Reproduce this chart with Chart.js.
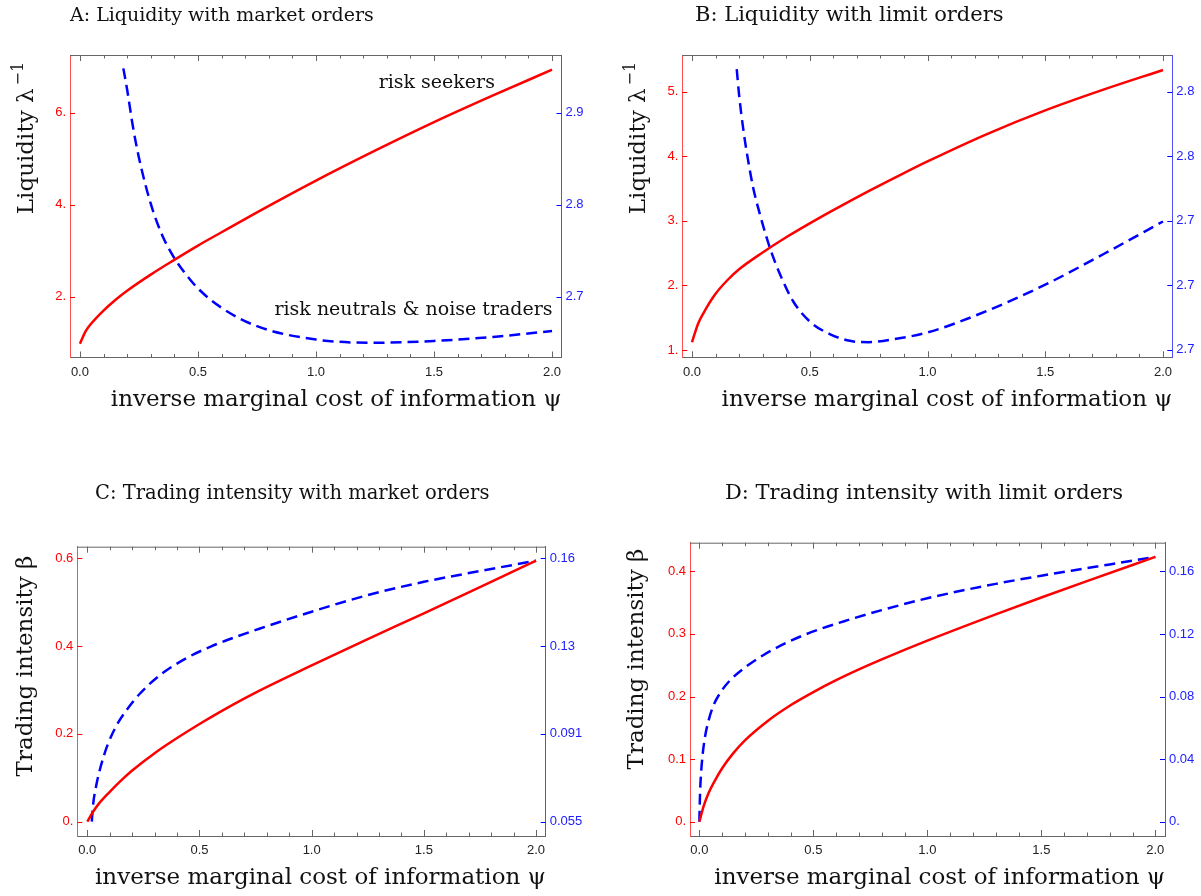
<!DOCTYPE html>
<html>
<head>
<meta charset="utf-8">
<script src="https://cdn.jsdelivr.net/npm/chart.js@4.4.1/dist/chart.umd.min.js"></script>
<style>
body { margin: 0; background: #fff; }
#wrap { position: relative; width: 1201px; height: 896px; overflow: hidden; background: #fff; }
#wrap canvas { position: absolute; }
</style>
</head>
<body>
<div id="wrap">
  <canvas id="chartA" width="600" height="430" style="left:0px;top:0px"></canvas>
  <canvas id="chartB" width="601" height="430" style="left:600px;top:0px"></canvas>
  <canvas id="chartC" width="600" height="426" style="left:0px;top:470px"></canvas>
  <canvas id="chartD" width="601" height="426" style="left:600px;top:470px"></canvas>
</div>
<script>
// ---- data ----
var xTicks = [0, 0.5, 1, 1.5, 2];
var xTickLabels = ['0.0', '0.5', '1.0', '1.5', '2.0'];
var xMinorTicks = [0.1, 0.2, 0.3, 0.4, 0.6, 0.7, 0.8, 0.9, 1.1, 1.2, 1.3, 1.4, 1.6, 1.7, 1.8, 1.9];

// A: liquidity, market orders
var psiA_red = [0, 0.025, 0.05, 0.1, 0.15, 0.2, 0.3, 0.4, 0.5, 0.6, 0.75, 1.0, 1.25, 1.5, 1.75, 2.0];
var seekersA = [0.98, 1.26, 1.43, 1.70, 1.93, 2.13, 2.48, 2.80, 3.11, 3.40, 3.83, 4.52, 5.17, 5.79, 6.37, 6.93];
var psiA_blue = [0.184, 0.2, 0.225, 0.25, 0.3, 0.35, 0.4, 0.45, 0.5, 0.6, 0.75, 1.0, 1.25, 1.5, 1.75, 2.0];
var neutralsA = [2.948, 2.925, 2.884, 2.851, 2.801, 2.766, 2.742, 2.724, 2.709, 2.688, 2.668, 2.6535, 2.650, 2.652, 2.6563, 2.6628];
var leftTicksA = [2, 4, 6];
var leftLabelsA = ['2.', '4.', '6.'];
var rightTicksA = [2.7, 2.8, 2.9];
var rightLabelsA = ['2.7', '2.8', '2.9'];
var notesA = ['risk seekers', 'risk neutrals & noise traders'];
var notesAx = [1.758, 2.002];
var notesAy = [6.634, 1.711];

// B: liquidity, limit orders
var psiB_red = [0, 0.025, 0.05, 0.1, 0.15, 0.2, 0.3, 0.4, 0.5, 0.6, 0.75, 0.9, 1.0, 1.25, 1.5, 1.75, 2.0];
var seekersB = [1.12, 1.40, 1.58, 1.87, 2.08, 2.25, 2.51, 2.745, 2.96, 3.165, 3.46, 3.74, 3.92, 4.34, 4.71, 5.035, 5.336];
var psiB_blue = [0.19, 0.2, 0.22, 0.24, 0.26, 0.29, 0.33, 0.375, 0.43, 0.5, 0.585, 0.67, 0.75, 0.88, 1.0, 1.25, 1.5, 1.75, 2.0];
var neutralsB = [2.827, 2.819, 2.8072, 2.798, 2.7902, 2.7816, 2.7718, 2.7632, 2.755, 2.7488, 2.7449, 2.7428, 2.7424, 2.7436, 2.7454, 2.752, 2.7602, 2.7698, 2.7798];
var leftTicksB = [1, 2, 3, 4, 5];
var leftLabelsB = ['1.', '2.', '3.', '4.', '5.'];
var rightTicksB = [2.74, 2.76, 2.78, 2.80, 2.82];
var rightLabelsB = ['2.7', '2.7', '2.7', '2.8', '2.8'];

// C: trading intensity, market orders
var psiC_red = [0, 0.025, 0.05, 0.1, 0.15, 0.2, 0.3, 0.4, 0.5, 0.6, 0.75, 1.0, 1.25, 1.5, 1.75, 2.0];
var seekersC = [0, 0.022, 0.040, 0.068, 0.0935, 0.1165, 0.156, 0.1905, 0.2225, 0.2525, 0.294, 0.356, 0.416, 0.4745, 0.5345, 0.5945];
var psiC_blue = [0.02, 0.025, 0.04, 0.06, 0.09, 0.13, 0.175, 0.235, 0.325, 0.44, 0.55, 0.67, 0.77, 1.0, 1.25, 1.5, 1.75, 2.0];
var neutralsC = [0.055, 0.0611, 0.0695, 0.0771, 0.0855, 0.0933, 0.0995, 0.1061, 0.1135, 0.1201, 0.1248, 0.1289, 0.132, 0.1387, 0.1453, 0.1506, 0.1549, 0.159];
var leftTicksC = [0, 0.2, 0.4, 0.6];
var leftLabelsC = ['0.', '0.2', '0.4', '0.6'];
var rightTicksC = [0.055, 0.09, 0.125, 0.16];
var rightLabelsC = ['0.055', '0.091', '0.13', '0.16'];

// D: trading intensity, limit orders
var psiD_red = [0, 0.02, 0.04, 0.07, 0.1, 0.15, 0.2, 0.3, 0.4, 0.5, 0.6, 0.7, 0.8, 1.0, 1.3, 1.5, 1.7, 2.0];
var seekersD = [0, 0.026, 0.0455, 0.067, 0.0855, 0.110, 0.130, 0.161, 0.186, 0.207, 0.226, 0.2432, 0.2592, 0.2892, 0.3312, 0.3582, 0.3844, 0.423];
var psiD_blue = [0, 0.003, 0.0075, 0.015, 0.025, 0.04, 0.06, 0.09, 0.135, 0.21, 0.28, 0.38, 0.5, 0.65, 0.8, 1.0, 1.3, 1.5, 1.7, 2.0];
var neutralsD = [0, 0.018, 0.0308, 0.0436, 0.0544, 0.0644, 0.0736, 0.082, 0.0904, 0.0996, 0.1064, 0.1142, 0.1216, 0.1288, 0.1352, 0.1428, 0.152, 0.1572, 0.162, 0.1692];
var leftTicksD = [0, 0.1, 0.2, 0.3, 0.4];
var leftLabelsD = ['0.', '0.1', '0.2', '0.3', '0.4'];
var rightTicksD = [0, 0.04, 0.08, 0.12, 0.16];
var rightLabelsD = ['0.', '0.04', '0.08', '0.12', '0.16'];

var xLabel = 'inverse marginal cost of information \u03c8';
var serif = 'DejaVu Serif';
var sans = 'Liberation Sans';
var red = '#ff0000';
var blue = '#0000ff';

function toPoints(xs, ys) {
    return xs.map(function (x, i) { return { x: x, y: ys[i] }; });
}

// frame top line, inward tick marks, panel title, y label and notes
function framePlugin(p) {
    return {
        id: 'frame' + p.id,
        afterDraw: function (chart) {
            var ctx = chart.ctx;
            var a = chart.chartArea;
            var sx = chart.scales.x, sy = chart.scales.y, sy1 = chart.scales.y1;
            ctx.save();
            ctx.lineWidth = 1;
            ctx.strokeStyle = '#666';
            ctx.beginPath();
            ctx.moveTo(a.left, a.top + 0.5);
            ctx.lineTo(a.right, a.top + 0.5);
            var all = xTicks.concat(xMinorTicks);
            all.forEach(function (v) {
                var px = Math.round(sx.getPixelForValue(v)) + 0.5;
                var len = xTicks.indexOf(v) >= 0 ? 6 : 3.5;
                ctx.moveTo(px, a.bottom);
                ctx.lineTo(px, a.bottom - len);
                ctx.moveTo(px, a.top);
                ctx.lineTo(px, a.top + len);
            });
            ctx.stroke();
            ctx.strokeStyle = red;
            ctx.beginPath();
            p.leftTicks.forEach(function (v) {
                var py = Math.round(sy.getPixelForValue(v)) + 0.5;
                ctx.moveTo(a.left, py);
                ctx.lineTo(a.left + 5, py);
            });
            ctx.stroke();
            ctx.strokeStyle = blue;
            ctx.beginPath();
            p.rightTicks.forEach(function (v) {
                var py = Math.round(sy1.getPixelForValue(v)) + 0.5;
                ctx.moveTo(a.right, py);
                ctx.lineTo(a.right - 5, py);
            });
            ctx.stroke();

            // panel title
            ctx.fillStyle = '#111';
            ctx.textBaseline = 'alphabetic';
            ctx.textAlign = 'left';
            ctx.font = p.titleSize + 'px "' + serif + '"';
            ctx.fillText(p.title, p.titleX, p.titleY);

            // rotated y label with optional superscript
            ctx.save();
            ctx.translate(p.yLabelX, p.yLabelY);
            ctx.rotate(-Math.PI / 2);
            ctx.textBaseline = 'middle';
            ctx.font = '23px "' + serif + '"';
            var w = ctx.measureText(p.yLabel).width;
            var supW = 0;
            if (p.yLabelSup) {
                ctx.font = '16px "' + serif + '"';
                supW = ctx.measureText(p.yLabelSup).width + 3;
            }
            var x0 = -(w + supW) / 2;
            ctx.font = '23px "' + serif + '"';
            ctx.fillText(p.yLabel, x0, 0);
            if (p.yLabelSup) {
                ctx.font = '16px "' + serif + '"';
                ctx.fillText(p.yLabelSup, x0 + w + 3, -8);
            }
            ctx.restore();

            if (p.notes) {
                ctx.font = '19px "' + serif + '"';
                ctx.textAlign = 'right';
                ctx.textBaseline = 'middle';
                p.notes.forEach(function (t, i) {
                    ctx.fillText(t, sx.getPixelForValue(p.notesX[i]), sy.getPixelForValue(p.notesY[i]));
                });
            }
            ctx.restore();
        }
    };
}

function makePanel(p) {
    var ctx = document.getElementById(p.id).getContext('2d');
    return new Chart(ctx, {
        type: 'line',
        data: {
            datasets: [
                {
                    label: 'risk seekers',
                    data: toPoints(p.redX, p.redY),
                    yAxisID: 'y',
                    borderColor: red,
                    borderWidth: 2.5,
                    pointRadius: 0,
                    cubicInterpolationMode: 'monotone',
                    fill: false
                },
                {
                    label: 'risk neutrals & noise traders',
                    data: toPoints(p.blueX, p.blueY),
                    yAxisID: 'y1',
                    borderColor: blue,
                    borderWidth: 2.5,
                    borderDash: [11, 6],
                    pointRadius: 0,
                    cubicInterpolationMode: 'monotone',
                    fill: false
                }
            ]
        },
        options: {
            responsive: false,
            animation: false,
            devicePixelRatio: 1,
            layout: { padding: { top: p.frame.top, left: 0, right: 0, bottom: 0 } },
            plugins: {
                legend: { display: false },
                tooltip: { enabled: false },
                title: { display: false }
            },
            scales: {
                x: {
                    type: 'linear',
                    min: p.xRange[0],
                    max: p.xRange[1],
                    grid: { display: false, drawTicks: false },
                    border: { display: true, color: '#666', width: 1 },
                    afterBuildTicks: function (s) { s.ticks = xTicks.map(function (v) { return { value: v }; }); },
                    afterFit: function (s) { s.height = p.h - p.frame.bottom; },
                    ticks: {
                        autoSkip: false,
                        maxRotation: 0,
                        padding: 7,
                        color: '#222',
                        font: { family: sans, size: 13 },
                        callback: function (v, i) { return xTickLabels[i]; }
                    },
                    title: {
                        display: true,
                        text: xLabel,
                        align: 'end',
                        color: '#111',
                        font: { family: serif, size: 23 },
                        padding: { top: 0, bottom: p.xTitlePad }
                    }
                },
                y: {
                    position: 'left',
                    min: p.yRange[0],
                    max: p.yRange[1],
                    grid: { display: false, drawTicks: false },
                    border: { display: true, color: '#ff5050', width: 1 },
                    afterBuildTicks: function (s) { s.ticks = p.leftTicks.map(function (v) { return { value: v }; }); },
                    afterFit: function (s) { s.width = p.frame.left; },
                    ticks: {
                        padding: 4,
                        color: red,
                        font: { family: sans, size: 13 },
                        callback: function (v, i) { return p.leftLabels[i]; }
                    }
                },
                y1: {
                    position: 'right',
                    min: p.y1Range[0],
                    max: p.y1Range[1],
                    grid: { display: false, drawTicks: false },
                    border: { display: true, color: '#5050ff', width: 1 },
                    afterBuildTicks: function (s) { s.ticks = p.rightTicks.map(function (v) { return { value: v }; }); },
                    afterFit: function (s) { s.width = p.w - p.frame.right; },
                    ticks: {
                        padding: 4,
                        color: '#2020ff',
                        font: { family: sans, size: 13 },
                        callback: function (v, i) { return p.rightLabels[i]; }
                    }
                }
            }
        },
        plugins: [framePlugin(p)]
    });
}

makePanel({
    id: 'chartA', w: 600, h: 430,
    frame: { left: 70, right: 561.5, top: 55, bottom: 357.5 },
    xRange: [-0.042, 2.040], yRange: [0.680, 7.249], y1Range: [2.634, 2.9625],
    redX: psiA_red, redY: seekersA, blueX: psiA_blue, blueY: neutralsA,
    leftTicks: leftTicksA, leftLabels: leftLabelsA, rightTicks: rightTicksA, rightLabels: rightLabelsA,
    yLabel: 'Liquidity \u03bb', yLabelSup: '\u22121', yLabelX: 27, yLabelY: 138, xTitlePad: 16,
    title: 'A: Liquidity with market orders', titleX: 70, titleY: 21, titleSize: 19,
    notes: notesA, notesX: notesAx, notesY: notesAy
});

makePanel({
    id: 'chartB', w: 601, h: 430,
    frame: { left: 82.3, right: 572.3, top: 55, bottom: 357.3 },
    xRange: [-0.0412, 2.0395], yRange: [0.887, 5.568], y1Range: [2.7377, 2.8314],
    redX: psiB_red, redY: seekersB, blueX: psiB_blue, blueY: neutralsB,
    leftTicks: leftTicksB, leftLabels: leftLabelsB, rightTicks: rightTicksB, rightLabels: rightLabelsB,
    yLabel: 'Liquidity \u03bb', yLabelSup: '\u22121', yLabelX: 39, yLabelY: 138, xTitlePad: 16,
    title: 'B: Liquidity with limit orders', titleX: 95, titleY: 21, titleSize: 21
});

makePanel({
    id: 'chartC', w: 600, h: 426,
    frame: { left: 77.3, right: 545.7, top: 76.7, bottom: 366 },
    xRange: [-0.0446, 2.043], yRange: [-0.0326, 0.6264], y1Range: [0.0493, 0.1646],
    redX: psiC_red, redY: seekersC, blueX: psiC_blue, blueY: neutralsC,
    leftTicks: leftTicksC, leftLabels: leftLabelsC, rightTicks: rightTicksC, rightLabels: rightLabelsC,
    yLabel: 'Trading intensity \u03b2', yLabelX: 26, yLabelY: 196, xTitlePad: 4,
    title: 'C: Trading intensity with market orders', titleX: 95, titleY: 29, titleSize: 19.5
});

makePanel({
    id: 'chartD', w: 601, h: 426,
    frame: { left: 90, right: 565, top: 72.7, bottom: 366 },
    xRange: [-0.041, 2.0425], yRange: [-0.0228, 0.4457], y1Range: [-0.00913, 0.1783],
    redX: psiD_red, redY: seekersD, blueX: psiD_blue, blueY: neutralsD,
    leftTicks: leftTicksD, leftLabels: leftLabelsD, rightTicks: rightTicksD, rightLabels: rightLabelsD,
    yLabel: 'Trading intensity \u03b2', yLabelX: 37, yLabelY: 189, xTitlePad: 4,
    title: 'D: Trading intensity with limit orders', titleX: 125, titleY: 29, titleSize: 21
});
</script>
</body>
</html>
